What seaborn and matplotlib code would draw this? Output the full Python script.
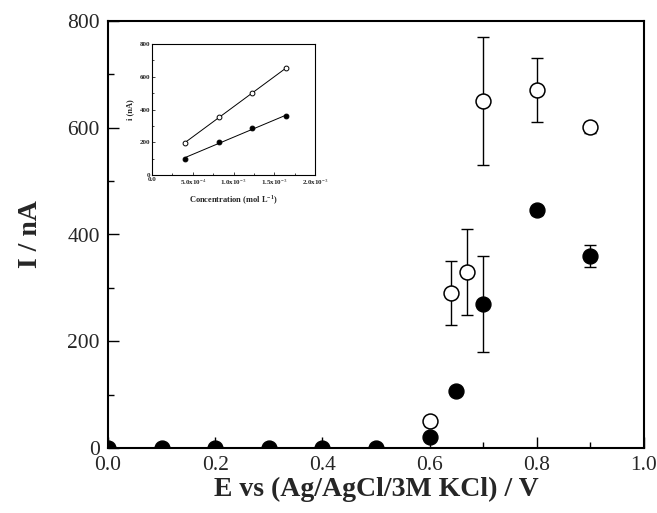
import matplotlib
matplotlib.use("Agg")
import matplotlib.pyplot as plt
import seaborn as sns
import pandas as pd
import numpy as np
from matplotlib.ticker import MultipleLocator, FixedLocator

# ---- data ----
E_filled = [0.0, 0.1, 0.2, 0.3, 0.4, 0.5, 0.6, 0.65, 0.7, 0.8, 0.9]
I_filled = [0, 0, 0, 0, 0, 0, 20, 107, 270, 445, 360]
err_filled = [0, 0, 0, 0, 0, 0, 0, 0, 90, 8, 20]

E_open = [0.6, 0.64, 0.67, 0.7, 0.8, 0.9]
I_open = [50, 290, 330, 650, 670, 601]
err_open = [8, 60, 80, 120, 60, 10]

conc = [4.1e-4, 8.2e-4, 1.23e-3, 1.64e-3]
i_open_inset = [197, 356, 499, 651]
i_filled_inset = [100, 201, 285, 358]

inset_xticks = [0.0, 5.0e-4, 1.0e-3, 1.5e-3, 2.0e-3]
inset_xticklabels = ["0.0", r"5.0x10$^{-4}$", r"1.0x10$^{-3}$", r"1.5x10$^{-3}$", r"2.0x10$^{-3}$"]

df_f = pd.DataFrame({"E": E_filled, "I": I_filled, "err": err_filled})
df_o = pd.DataFrame({"E": E_open, "I": I_open, "err": err_open})
df_in_o = pd.DataFrame({"c": conc, "i": i_open_inset})
df_in_f = pd.DataFrame({"c": conc, "i": i_filled_inset})

sns.set_style("ticks")
plt.rcParams["font.family"] = ["Liberation Serif", "DejaVu Serif"]
plt.rcParams["mathtext.fontset"] = "custom"
plt.rcParams["mathtext.rm"] = "Liberation Serif"
plt.rcParams["mathtext.bf"] = "Liberation Serif:bold"

fig = plt.figure(figsize=(6.57, 5.13), dpi=100)
ax = fig.add_axes([108/657, (513-448)/513, (644-108)/657, (448-21)/513])

# error bars
ax.errorbar(df_o["E"], df_o["I"], yerr=df_o["err"], fmt="none", ecolor="black",
            elinewidth=1.0, capsize=4.5, capthick=1.0, zorder=2)
ax.errorbar(df_f["E"], df_f["I"], yerr=df_f["err"], fmt="none", ecolor="black",
            elinewidth=1.0, capsize=4.5, capthick=1.0, zorder=2)

sns.scatterplot(data=df_o, x="E", y="I", ax=ax, marker="o", s=115,
                facecolor="white", edgecolor="black", linewidth=1.1, zorder=3)
sns.scatterplot(data=df_f, x="E", y="I", ax=ax, marker="o", s=115,
                color="black", edgecolor="black", linewidth=1.0, zorder=4)

ax.set_xlim(0.0, 1.0)
ax.set_ylim(0, 800)
ax.xaxis.set_major_locator(MultipleLocator(0.2))
ax.xaxis.set_minor_locator(MultipleLocator(0.1))
ax.yaxis.set_major_locator(MultipleLocator(200))
ax.yaxis.set_minor_locator(MultipleLocator(100))
ax.tick_params(which="both", direction="in", top=False, right=False, color="black")
ax.tick_params(which="major", length=8, width=1.0, labelsize=15.5, pad=6)
ax.tick_params(which="minor", length=4, width=1.0)
for s in ax.spines.values():
    s.set_linewidth(1.5)
    s.set_color("black")
ax.set_xlabel("E vs (Ag/AgCl/3M KCl) / V", fontsize=20, fontweight="bold", labelpad=1)
ax.set_ylabel("I / nA", fontsize=20, fontweight="bold", labelpad=17)

# ---- inset ----
axi = fig.add_axes([152/657, (513-175)/513, 163/657, 131/513])
sns.regplot(data=df_in_o, x="c", y="i", ax=axi, scatter=False, ci=None,
            line_kws={"color": "black", "linewidth": 0.7})
sns.regplot(data=df_in_f, x="c", y="i", ax=axi, scatter=False, ci=None,
            line_kws={"color": "black", "linewidth": 0.7})
sns.scatterplot(data=df_in_o, x="c", y="i", ax=axi, marker="o", s=12,
                facecolor="white", edgecolor="black", linewidth=0.7, zorder=3)
sns.scatterplot(data=df_in_f, x="c", y="i", ax=axi, marker="o", s=12,
                color="black", edgecolor="black", linewidth=0.7, zorder=3)
axi.set_xlim(0, 2.0e-3)
axi.set_ylim(0, 800)
axi.xaxis.set_major_locator(FixedLocator(inset_xticks))
axi.set_xticklabels(inset_xticklabels)
axi.xaxis.set_minor_locator(MultipleLocator(2.5e-4))
axi.yaxis.set_major_locator(MultipleLocator(200))
axi.yaxis.set_minor_locator(MultipleLocator(100))
axi.tick_params(which="both", direction="in", top=False, right=False)
axi.tick_params(which="major", length=2.5, width=0.6, labelsize=5, pad=1.5)
axi.tick_params(which="minor", length=1.5, width=0.6)
for lab in axi.get_xticklabels() + axi.get_yticklabels():
    lab.set_fontweight("bold")
for s in axi.spines.values():
    s.set_linewidth(0.8)
    s.set_color("black")
axi.set_xlabel(r"Concentration (mol L$^{\mathbf{-1}}$)", fontsize=6, fontweight="bold", labelpad=5)
axi.set_ylabel("i (nA)", fontsize=6, fontweight="bold", labelpad=4)

fig.savefig("out.png", dpi=100)
